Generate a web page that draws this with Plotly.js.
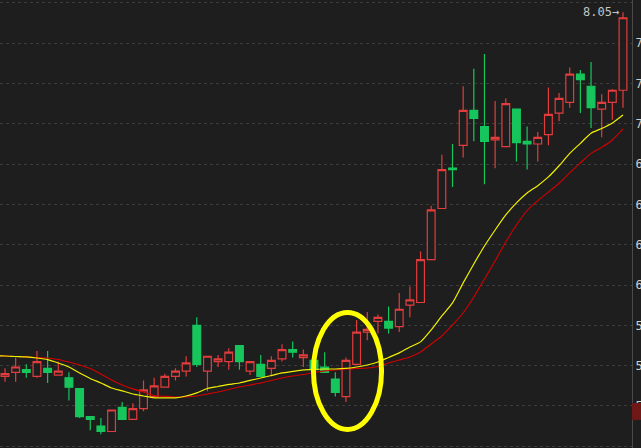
<!DOCTYPE html>
<html><head><meta charset="utf-8">
<script src="https://cdn.plot.ly/plotly-3.0.1.min.js"></script>
<style>html,body{margin:0;padding:0;background:#1e1e1e;overflow:hidden}#chart{width:641px;height:448px}</style>
</head><body><div id="chart"></div>
<script>
// ---- data ----
const days = Array.from({length: 59}, (_, i) => i + 1);
const openP  = [5.34,5.37,5.39,5.34,5.40,5.35,5.33,5.25,5.04,4.97,4.93,5.11,5.02,5.10,5.19,5.26,5.34,5.38,5.72,5.38,
                5.45,5.45,5.57,5.38,5.43,5.40,5.47,5.54,5.48,5.46,5.41,5.32,5.19,5.43,5.67,5.75,5.75,5.71,5.87,5.89,
                6.21,6.59,6.89,7.06,7.32,7.20,7.10,7.05,7.33,7.09,7.07,7.14,7.30,7.38,7.59,7.50,7.33,7.38,7.47];
const highP  = [5.40,5.48,5.43,5.53,5.53,5.45,5.37,5.25,5.04,5.03,5.09,5.15,5.14,5.31,5.33,5.36,5.40,5.49,5.78,5.49,
                5.50,5.55,5.57,5.45,5.50,5.49,5.58,5.60,5.54,5.48,5.52,5.37,5.48,5.76,5.82,5.80,5.86,5.96,6.01,6.27,
                6.61,6.99,7.07,7.50,7.63,7.74,7.39,7.41,7.33,7.20,7.16,7.49,7.45,7.64,7.62,7.68,7.44,7.48,8.05];
const lowP   = [5.30,5.30,5.33,5.33,5.29,5.35,5.16,5.03,4.94,4.91,4.93,5.02,5.02,5.08,5.19,5.26,5.31,5.34,5.41,5.23,
                5.41,5.39,5.39,5.35,5.34,5.34,5.45,5.48,5.41,5.38,5.37,5.19,5.15,5.43,5.61,5.66,5.66,5.67,5.78,5.89,
                6.21,6.59,6.75,6.97,7.09,6.77,6.89,7.05,6.94,6.88,6.94,7.06,7.24,7.34,7.30,7.19,7.12,7.25,7.34];
const closeP = [5.36,5.41,5.37,5.45,5.37,5.38,5.26,5.04,5.02,4.93,5.09,5.02,5.10,5.24,5.27,5.34,5.38,5.44,5.43,5.49,
                5.47,5.52,5.45,5.45,5.34,5.46,5.54,5.52,5.50,5.39,5.37,5.22,5.46,5.67,5.69,5.78,5.70,5.84,5.91,6.21,
                6.58,6.88,6.88,7.32,7.26,7.09,7.12,7.37,7.08,7.07,7.12,7.29,7.41,7.59,7.55,7.34,7.38,7.47,8.01];
// moving averages, day 0 .. day 59
const maDays = Array.from({length: 60}, (_, i) => i);
const maYellow = [5.492,5.492,5.488,5.485,5.477,5.465,5.440,5.410,5.366,5.325,5.291,5.254,5.232,5.209,5.194,5.180,5.180,5.180,5.194,5.217,
                  5.250,5.265,5.280,5.291,5.310,5.328,5.347,5.366,5.377,5.388,5.392,5.395,5.395,5.399,5.410,5.425,5.447,5.481,5.515,5.559,
                  5.597,5.686,5.790,5.887,6.036,6.177,6.311,6.430,6.542,6.632,6.705,6.760,6.825,6.908,7.000,7.075,7.150,7.186,7.227,7.286];
const maRed    = [5.492,5.492,5.488,5.485,5.481,5.477,5.466,5.447,5.425,5.399,5.358,5.313,5.276,5.247,5.224,5.198,5.191,5.187,5.187,5.194,
                  5.209,5.224,5.243,5.261,5.276,5.291,5.310,5.328,5.343,5.354,5.369,5.381,5.388,5.395,5.399,5.403,5.414,5.440,5.462,5.485,
                  5.522,5.581,5.641,5.723,5.812,5.931,6.065,6.199,6.341,6.467,6.575,6.648,6.712,6.778,6.855,6.929,7.000,7.045,7.100,7.182];
// right axis ticks
const yTicks = [8.12,7.82,7.52,7.22,6.92,6.62,6.32,6.02,5.72,5.42,5.12,4.82];
const yTickText = yTicks.map(v => v.toFixed(2));
// highlight ellipse (day span, price span) and price flag on the axis
const ellipseDays = [29.95, 36.34];
const ellipsePrice = [4.945, 5.816];
const flagPrice = [5.016, 5.142];

const maxHigh = Math.max(...highP);
const maxDay = days[highP.indexOf(maxHigh)];

const RED = '#e23c3c', GREEN = '#16c65c', BG = '#1e1e1e';

const traces = [
  {
    type: 'candlestick', x: days, open: openP, high: highP, low: lowP, close: closeP,
    increasing: {line: {color: RED, width: 1.2}, fillcolor: BG},
    decreasing: {line: {color: GREEN, width: 1.2}, fillcolor: GREEN},
    whiskerwidth: 0, hoverinfo: 'none', showlegend: false
  },
  {type: 'scatter', mode: 'lines', x: maDays, y: maRed, line: {color: '#d40000', width: 1.1, shape: 'spline', smoothing: 0.6}, hoverinfo: 'none', showlegend: false},
  {type: 'scatter', mode: 'lines', x: maDays, y: maYellow, line: {color: '#f0f000', width: 1.2, shape: 'spline', smoothing: 0.6}, hoverinfo: 'none', showlegend: false}
];

const layout = {
  width: 641, height: 448,
  margin: {l: 0, r: 9, t: 0, b: 0, pad: 0},
  paper_bgcolor: BG, plot_bgcolor: BG,
  showlegend: false,
  boxgap: 0.27, boxgroupgap: 0,
  xaxis: {
    range: [0.531, 59.845], visible: false, showgrid: false, zeroline: false,
    rangeslider: {visible: false}, fixedrange: true
  },
  yaxis: {
    side: 'right', range: [4.807, 8.142], tickmode: 'array', tickvals: yTicks, ticktext: yTickText,
    showgrid: true, gridcolor: '#3c3c3c', griddash: 'dot', gridwidth: 1,
    zeroline: false, showline: true, linecolor: '#4a4a4a', linewidth: 1,
    ticks: '', tickfont: {family: 'DejaVu Sans Mono', size: 12, color: '#cfcfcf'},
    fixedrange: true
  },
  shapes: [
    {type: 'circle', xref: 'x', yref: 'y', x0: ellipseDays[0], x1: ellipseDays[1], y0: ellipsePrice[0], y1: ellipsePrice[1],
     line: {color: '#ffff00', width: 5}, fillcolor: 'rgba(0,0,0,0)', layer: 'above'},
    {type: 'rect', xref: 'paper', yref: 'y', x0: 1.0, x1: 1.03, y0: flagPrice[0], y1: flagPrice[1],
     line: {width: 0}, fillcolor: '#701818', layer: 'above'}
  ],
  annotations: [
    {x: maxDay, y: maxHigh, xref: 'x', yref: 'y', text: maxHigh.toFixed(2) + '\u2192', showarrow: false,
     xanchor: 'right', yanchor: 'middle', xshift: -2,
     font: {family: 'DejaVu Sans Mono', size: 12, color: '#c4c4c4'}}
  ]
};

Plotly.newPlot('chart', traces, layout, {staticPlot: true, displayModeBar: false});
</script>
</body></html>
